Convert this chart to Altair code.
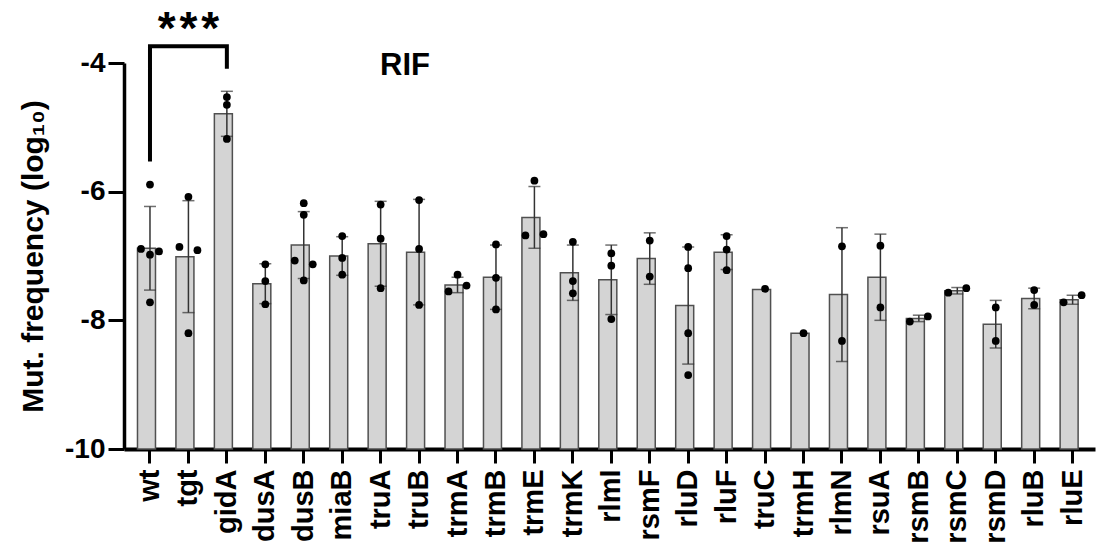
import altair as alt
import pandas as pd

FONT = "Liberation Sans"

genes = ["wt", "tgt", "gidA", "dusA", "dusB", "miaB", "truA", "truB", "trmA", "trmB",
         "trmE", "trmK", "rlmI", "rsmF", "rluD", "rluF", "truC", "trmH", "rlmN", "rsuA",
         "rsmB", "rsmC", "rsmD", "rluB", "rluE"]

means = [-6.88, -7.01, -4.79, -7.43, -6.83, -7.00, -6.81, -6.94, -7.45, -7.33,
         -6.40, -7.26, -7.37, -7.04, -7.77, -6.94, -7.52, -8.20, -7.60, -7.33,
         -7.97, -7.54, -8.06, -7.66, -7.68]

errs = [0.65, 0.87, 0.35, 0.31, 0.52, 0.30, 0.66, 0.82, 0.12, 0.50,
        0.48, 0.43, 0.54, 0.40, 0.91, 0.27, 0.0, 0.0, 1.04, 0.67,
        0.05, 0.05, 0.37, 0.16, 0.07]

replicates = [
    [-5.89, -6.89, -6.98, -6.93, -7.72],
    [-6.08, -6.86, -6.91, -8.20],
    [-4.53, -4.65, -5.18],
    [-7.13, -7.39, -7.75],
    [-6.18, -6.36, -7.07, -7.13, -7.38],
    [-6.69, -7.03, -7.29],
    [-6.20, -6.73, -7.50],
    [-6.13, -6.89, -7.76],
    [-7.29, -7.55, -7.46],
    [-6.82, -7.34, -7.83],
    [-5.83, -6.68, -6.66],
    [-6.78, -7.39, -7.58],
    [-6.96, -7.15, -7.98],
    [-6.76, -7.32],
    [-6.86, -7.19, -8.20, -8.85],
    [-6.69, -6.90, -7.22],
    [-7.51],
    [-8.20],
    [-6.85, -8.32],
    [-6.84, -7.80],
    [-8.02, -7.94],
    [-7.57, -7.50],
    [-7.80, -8.32],
    [-7.53, -7.76],
    [-7.72, -7.61],
]

# scatter lane of each replicate dot: L = left, C = centre, R = right
lanes = [
    ["C", "L", "C", "R", "C"],
    ["C", "L", "R", "C"],
    ["C", "C", "C"],
    ["C", "C", "C"],
    ["C", "C", "L", "R", "C"],
    ["C", "C", "C"],
    ["C", "C", "C"],
    ["C", "C", "C"],
    ["C", "L", "R"],
    ["C", "C", "C"],
    ["C", "L", "R"],
    ["C", "C", "C"],
    ["C", "C", "C"],
    ["C", "C"],
    ["C", "C", "C", "C"],
    ["C", "C", "C"],
    ["C"],
    ["C"],
    ["C", "C"],
    ["C", "C"],
    ["L", "R"],
    ["L", "R"],
    ["C", "C"],
    ["C", "C"],
    ["L", "R"],
]

# significance bracket wt vs gidA
bracket_genes = ["wt", "wt", "gidA", "gidA"]
bracket_y = [-5.53, -3.74, -3.74, -4.09]
bracket_order = [0, 1, 2, 3]

bars_df = pd.DataFrame({"gene": genes, "mean": means, "err": errs})
pts_df = pd.DataFrame(
    [{"gene": g, "value": v, "lane": l}
     for g, vals, ls in zip(genes, replicates, lanes)
     for v, l in zip(vals, ls)]
)
bracket_df = pd.DataFrame({"gene": bracket_genes, "y": bracket_y, "o": bracket_order})
star_df = pd.DataFrame({"gene": ["tgt"], "y": [-3.70], "label": ["*\u200a*\u200a*"]})
rif_df = pd.DataFrame({"gene": ["truB"], "y": [-4.18], "label": ["RIF"]})

xscale = alt.Scale(domain=genes, paddingInner=0.35, paddingOuter=0.304, align=0.577)
xaxis = alt.Axis(title=None, labelAngle=-90, labelFontSize=29, labelFontWeight="bold",
                 labelFont=FONT, labelColor="black", labelPadding=6, tickSize=14,
                 tickWidth=3, tickColor="black", domainWidth=4, domainColor="black")

yscale = alt.Scale(domain=[-10, -4], nice=False, zero=False)
YTITLE = "Mut. frequency (log₁₀)"
yaxis = alt.Axis(title=YTITLE, values=[-10, -8, -6, -4], labelExpr="'' + datum.value",
                 labelFontSize=28, labelFontWeight="bold", labelFont=FONT, labelColor="black",
                 labelPadding=3, tickSize=16, tickWidth=3, tickColor="black",
                 domainWidth=3.5, domainColor="black", titleFont=FONT, titleFontSize=30,
                 titleFontWeight="bold", titleColor="black", titlePadding=16)


def X():
    return alt.X("gene:N", scale=xscale, axis=xaxis, sort=genes)


def Y(field):
    return alt.Y(f"{field}:Q", scale=yscale, axis=yaxis, title=YTITLE)


bars = alt.Chart(bars_df).mark_bar(fill="#d4d4d4", stroke="#505050", strokeWidth=1.5).encode(
    x=X(), y=Y("mean"), y2=alt.datum(-10)
)

err_base = alt.Chart(bars_df).transform_filter("datum.err > 0").transform_calculate(
    lo="datum.mean - datum.err", hi="datum.mean + datum.err"
)
err_rule = err_base.mark_rule(color="#333333", strokeWidth=1.5).encode(
    x=X(), y=Y("lo"), y2="hi:Q"
)
cap_lo = err_base.mark_tick(color="#333333", size=12, thickness=1.5).encode(x=X(), y=Y("lo"))
cap_hi = err_base.mark_tick(color="#333333", size=12, thickness=1.5).encode(x=X(), y=Y("hi"))

points = alt.Chart(pts_df).mark_circle(color="black", opacity=1, size=60).encode(
    x=X(),
    xOffset=alt.XOffset("lane:N", scale=alt.Scale(domain=["L", "C", "R"], range=[-1, 26])),
    y=Y("value"),
)

bracket = alt.Chart(bracket_df).mark_line(color="black", strokeWidth=4, strokeJoin="miter").encode(
    x=X(), y=Y("y"), order="o:Q"
)

stars = alt.Chart(star_df).mark_text(font=FONT, fontSize=46, fontWeight="bold",
                                     baseline="alphabetic", align="center", color="black").encode(
    x=X(), y=Y("y"), text="label:N"
)

rif = alt.Chart(rif_df).mark_text(font=FONT, fontSize=31, fontWeight="bold",
                                  baseline="alphabetic", align="center", dx=-14, color="black").encode(
    x=X(), y=Y("y"), text="label:N"
)

chart = alt.layer(bars, err_rule, cap_lo, cap_hi, points, bracket, stars, rif).properties(
    width=971, height=386,
    autosize=alt.AutoSizeParams(type="none"),
    padding={"left": 124, "top": 63, "right": 2, "bottom": 95},
).configure_view(stroke=None).configure_axis(grid=False)

chart.save("out.html", embed_options={"renderer": "svg", "actions": False})
